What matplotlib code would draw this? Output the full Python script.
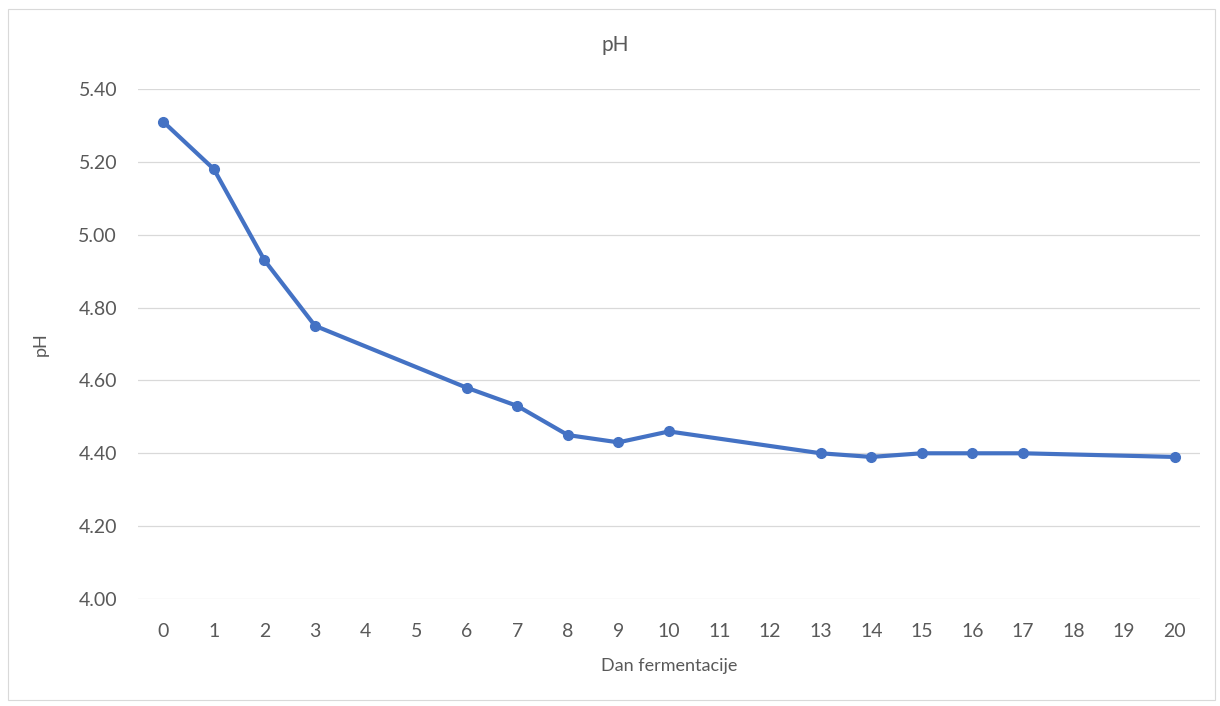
import matplotlib
matplotlib.use("Agg")
import matplotlib.pyplot as plt
from matplotlib.patches import Rectangle

# 数据
days = [0, 1, 2, 3, 6, 7, 8, 9, 10, 13, 14, 15, 16, 17, 20]
ph = [5.31, 5.18, 4.93, 4.75, 4.58, 4.53, 4.45, 4.43, 4.46, 4.40, 4.39, 4.40, 4.40, 4.40, 4.39]
x_ticks = list(range(0, 21))
y_ticks = [4.00, 4.20, 4.40, 4.60, 4.80, 5.00, 5.20, 5.40]

LINE = "#4472C4"
TXT = "#595959"
GRID = "#D9D9D9"
plt.rcParams["font.family"] = ["Lato", "DejaVu Sans"]

fig = plt.figure(figsize=(12.2, 7.06), dpi=100)
fig.patches.append(Rectangle((8/1220, 1 - 700/706), 1207/1220, 691/706,
                             transform=fig.transFigure, fill=False,
                             edgecolor="#D9D9D9", linewidth=0.8))

ax = fig.add_axes([138/1220, 1 - 599/706, (1200-138)/1220, (599-89)/706])
ax.plot(days, ph, "-o", color=LINE, linewidth=3.0, markersize=7, zorder=3)

ax.set_xlim(-0.5, 20.5)
ax.set_ylim(4.0, 5.4)
ax.set_xticks(x_ticks)
ax.set_yticks(y_ticks)
ax.set_yticklabels([f"{v:.2f}" for v in y_ticks])
ax.tick_params(length=0, labelsize=14, colors=TXT)
ax.tick_params(axis="y", pad=15)
ax.tick_params(axis="x", pad=17)
ax.grid(axis="y", color=GRID, linewidth=0.9)
ax.set_axisbelow(True)
for s in ax.spines.values():
    s.set_visible(False)

ax.set_xlabel("Dan fermentacije", fontsize=13, color=TXT, labelpad=13)
ax.set_ylabel("pH", fontsize=13, color=TXT, labelpad=21)
fig.text(615/1220, 1 - 45/706, "pH", ha="center", va="center", fontsize=15, color=TXT)

fig.savefig("out.png", dpi=100, facecolor="white")
